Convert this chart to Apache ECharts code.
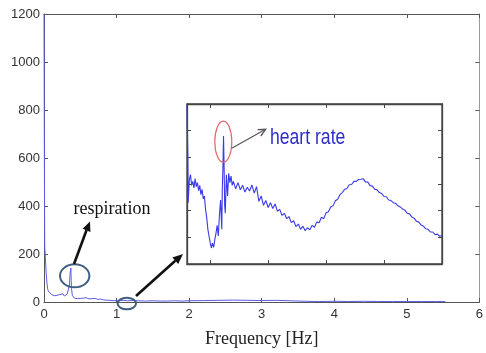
<!DOCTYPE html>
<html><head><meta charset="utf-8">
<script src="https://cdn.jsdelivr.net/npm/echarts@6/dist/echarts.min.js"></script>
<style>html,body{margin:0;padding:0;background:#fff}#c{width:486px;height:353px}</style>
</head><body><div id="c"></div>
<script>
// Main spectrum: [frequency Hz, amplitude]
const mainSpectrum = [
 [0,1200],[0.005,600],[0.01,230],[0.02,180],[0.03,120],[0.04,80],[0.05,55],[0.06,45],[0.08,38],[0.1,32],
 [0.12,30],[0.14,26],[0.16,33],[0.18,28],[0.2,24],[0.22,31],[0.24,27],[0.26,34],[0.28,25],[0.3,30],
 [0.32,33],[0.34,38],[0.35,70],[0.36,120],[0.37,142],[0.375,90],[0.38,55],[0.39,28],[0.4,20],[0.42,16],
 [0.44,19],[0.46,14],[0.48,18],[0.5,15],[0.52,20],[0.54,16],[0.56,13],[0.58,18],[0.6,15],[0.62,13],
 [0.64,17],[0.66,14],[0.68,12],[0.7,15],[0.72,13],[0.74,11],[0.76,16],[0.78,12],[0.8,18],[0.82,9],
 [0.85,8],[0.9,7],[0.95,6],[1.0,5],[1.05,6],[1.1,7],[1.15,5],[1.2,6],[1.3,5],[1.4,4],
 [1.5,5],[1.6,4],[1.7,4],[1.8,5],[1.9,4],[2.0,5],[2.2,6],[2.4,7],[2.6,8],[2.8,7],
 [3.0,6],[3.2,7],[3.4,5],[3.6,3],[3.8,2],[4.0,3],[4.2,2],[4.4,3],[4.6,2],[4.8,2],[5.0,2],[5.2,2],[5.4,2],[5.53,2]
];
// Inset (zoomed 0.96–1.40 Hz), arbitrary amplitude units 0–6
const insetSpectrum = [
 [0.960,5.95],[0.9615,4.0],[0.962,2.3],[0.964,3.15],[0.966,3.35],[0.968,2.95],[0.970,3.10],[0.972,2.85],[0.974,3.20],[0.976,2.90],
 [0.978,3.05],[0.980,2.75],[0.982,2.95],[0.984,2.60],[0.986,2.80],[0.988,2.45],[0.990,2.55],[0.992,2.05],[0.994,1.75],[0.996,1.30],
 [0.998,1.05],[1.000,0.80],[1.002,0.60],[1.004,0.78],[1.006,0.62],[1.008,0.92],[1.010,1.15],[1.012,1.45],[1.014,1.05],[1.016,1.85],
 [1.018,2.40],[1.020,1.30],[1.021,2.9],[1.022,3.6],[1.023,4.8],[1.024,3.7],[1.025,2.2],[1.026,1.9],[1.028,3.35],[1.030,2.55],
 [1.032,3.40],[1.034,3.05],[1.036,3.30],[1.038,2.95],[1.040,3.10],[1.044,2.82],[1.048,3.05],[1.052,2.78],[1.056,2.95],[1.060,2.70],
 [1.064,2.88],[1.068,2.74],[1.072,2.96],[1.076,2.66],[1.080,2.90],[1.084,2.35],[1.088,2.55],[1.092,2.20],[1.096,2.38],[1.100,2.12],
 [1.104,2.30],[1.108,2.08],[1.112,2.25],[1.116,1.98],[1.120,2.05],[1.124,1.82],[1.128,1.90],[1.132,1.70],[1.136,1.78],[1.140,1.55],
 [1.144,1.62],[1.148,1.40],[1.152,1.50],[1.156,1.30],[1.160,1.42],[1.164,1.25],[1.168,1.36],[1.172,1.28],[1.176,1.45],[1.180,1.38],
 [1.184,1.58],[1.188,1.55],[1.192,1.75],[1.196,1.70],[1.200,1.92],[1.204,1.96],[1.208,2.14],[1.212,2.18],[1.216,2.37],[1.220,2.43],
 [1.224,2.60],[1.228,2.68],[1.232,2.80],[1.236,2.83],[1.240,2.97],[1.244,2.98],[1.248,3.10],[1.252,3.10],[1.256,3.17],[1.260,3.18],
 [1.264,3.20],[1.268,3.08],[1.272,3.07],[1.276,2.94],[1.280,2.92],[1.284,2.80],[1.288,2.78],[1.292,2.68],[1.296,2.64],[1.300,2.53],
 [1.304,2.52],[1.308,2.40],[1.312,2.38],[1.316,2.30],[1.320,2.27],[1.324,2.18],[1.328,2.14],[1.332,2.06],[1.336,2.02],[1.340,1.90],
 [1.344,1.88],[1.348,1.76],[1.352,1.72],[1.356,1.60],[1.360,1.57],[1.364,1.46],[1.368,1.42],[1.372,1.32],[1.376,1.30],[1.380,1.20],
 [1.384,1.20],[1.388,1.10],[1.392,1.12],[1.396,1.04],[1.400,1.07]
];
const xTickLabels = [0,1,2,3,4,5,6];
const yTickLabels = [0,200,400,600,800,1000,1200];
const insetXTicks = [1.0,1.1,1.2,1.3,1.4];
const insetYTicks = [0,1,2,3,4,5,6];

const chart = echarts.init(document.getElementById('c'), null, {renderer:'canvas'});
const axCol = '#555';
const lblStyle = {color:'#333', fontFamily:'Liberation Sans', fontSize:13, formatter:function(v){return String(v);}};
function mainAxis(extra){
  return Object.assign({
    axisLine:{show:true, onZero:false, lineStyle:{color:axCol, width:1}},
    axisTick:{show:true, inside:true, length:4, lineStyle:{color:axCol}},
    splitLine:{show:false}
  }, extra);
}
function insetAxis(extra){
  return Object.assign({
    z:6,
    axisLine:{show:true, onZero:false, lineStyle:{color:'#444', width:1.3}},
    axisTick:{show:true, inside:true, length:4, lineStyle:{color:'#444'}},
    axisLabel:{show:false},
    splitLine:{show:false}
  }, extra);
}
function arrowHead(tip, base1, base2, color){
  return {type:'polygon', z:100, shape:{points:[tip, base1, base2]}, style:{fill:color}};
}
const insetXTick = {show:true, inside:true, length:4, customValues:insetXTicks, lineStyle:{color:'#444'}};
chart.setOption({
  animation:false,
  grid:[
    {left:44, right:4, top:14, bottom:43},
    {left:187, top:104, width:255, height:160, show:true, backgroundColor:'#fff', borderColor:'#444', borderWidth:1.3, z:5}
  ],
  xAxis:[
    mainAxis({type:'value', gridIndex:0, min:xTickLabels[0], max:xTickLabels[xTickLabels.length-1], interval:1, position:'bottom',
      axisLabel:Object.assign({margin:6}, lblStyle),
      name:'Frequency [Hz]', nameLocation:'middle', nameGap:28,
      nameTextStyle:{fontFamily:'Liberation Serif', fontSize:18, color:'#222'}}),
    mainAxis({type:'value', gridIndex:0, min:0, max:6, interval:1, position:'top', axisLabel:{show:false}}),
    insetAxis({type:'value', gridIndex:1, min:0.96, max:1.4, position:'bottom', axisTick:insetXTick}),
    insetAxis({type:'value', gridIndex:1, min:0.96, max:1.4, position:'top', axisTick:insetXTick})
  ],
  yAxis:[
    mainAxis({type:'value', gridIndex:0, min:yTickLabels[0], max:yTickLabels[yTickLabels.length-1], interval:200, position:'left',
      axisLabel:Object.assign({margin:4}, lblStyle)}),
    mainAxis({type:'value', gridIndex:0, min:0, max:1200, interval:200, position:'right', axisLabel:{show:false},
      axisLine:{show:true, onZero:false, lineStyle:{color:'#999', width:1}}}),
    insetAxis({type:'value', gridIndex:1, min:insetYTicks[0], max:insetYTicks[insetYTicks.length-1], interval:1, position:'left'}),
    insetAxis({type:'value', gridIndex:1, min:0, max:6, interval:1, position:'right'})
  ],
  series:[
    {type:'line', xAxisIndex:0, yAxisIndex:0, data:mainSpectrum, showSymbol:false, symbol:'none',
      lineStyle:{color:'#5b5be6', width:1}, z:3},
    {type:'line', xAxisIndex:2, yAxisIndex:2, data:insetSpectrum, showSymbol:false, symbol:'none',
      lineStyle:{color:'#3a3ae6', width:1.1}, z:10}
  ],
  graphic:[
    {type:'text', z:100, x:112, y:209, style:{text:'respiration', fontFamily:'Liberation Serif', fontSize:18, fill:'#111', textAlign:'center', textVerticalAlign:'middle'}},
    {type:'ellipse', z:100, shape:{cx:74.7, cy:275.8, rx:14.7, ry:11.5}, style:{fill:'none', stroke:'#3e5f80', lineWidth:2}},
    {type:'ellipse', z:100, shape:{cx:126.8, cy:303.5, rx:9.2, ry:5.8}, style:{fill:'none', stroke:'#3e5f80', lineWidth:2}},
    {type:'line', z:100, shape:{x1:74, y1:264, x2:86.5, y2:230.3}, style:{stroke:'#111', lineWidth:2.6}},
    arrowHead([90,221.5],[90.4,232],[82.6,228.7],'#111'),
    {type:'line', z:100, shape:{x1:136, y1:296, x2:175.3, y2:260.7}, style:{stroke:'#111', lineWidth:2.6}},
    arrowHead([183,254],[178.2,264],[172.4,257.4],'#111'),
    {type:'ellipse', z:110, shape:{cx:223.3, cy:141.7, rx:8.5, ry:20.5}, style:{fill:'none', stroke:'#e06a6a', lineWidth:1.2}},
    {type:'line', z:110, shape:{x1:231.7, y1:148.3, x2:265.2, y2:129.6}, style:{stroke:'#555', lineWidth:1.2}},
    {type:'polyline', z:110, shape:{points:[[260.8,136],[265.7,129.3],[257.6,129.6]]}, style:{stroke:'#555', lineWidth:1.3, fill:'none'}},
    {type:'text', z:110, x:270, y:138, scaleX:0.8, style:{text:'heart rate', fontFamily:'Liberation Sans', fontSize:22, fill:'#2d2dc8', textAlign:'left', textVerticalAlign:'middle'}}
  ]
});
</script></body></html>
